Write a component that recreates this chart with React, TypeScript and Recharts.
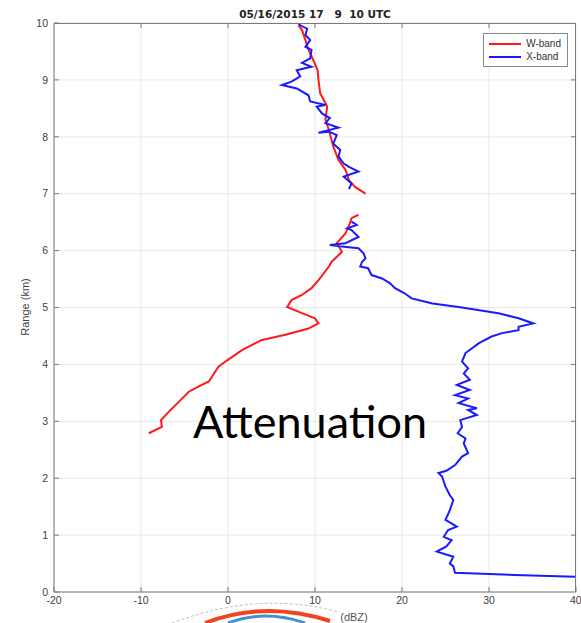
import {
  CartesianGrid,
  Scatter,
  ScatterChart,
  XAxis,
  YAxis,
} from "recharts";

// W-band (red), split where the profile has no data between ~6.6 and 7 km
const wLowRange = [2.79, 2.9, 3.02, 3.2, 3.35, 3.52, 3.62, 3.7, 3.96, 4.05, 4.25, 4.43, 4.52, 4.63, 4.72, 4.81, 4.9, 5.01, 5.13, 5.22, 5.34, 5.5, 5.72, 5.8, 5.98, 6.13, 6.3, 6.48, 6.57, 6.63];
const wLowDbz = [-9.1, -7.6, -7.7, -6.6, -5.6, -4.5, -3.3, -2.2, -1.1, -0.3, 1.6, 3.9, 6.6, 9.25, 10.4, 10.0, 8.5, 6.8, 7.3, 8.5, 9.6, 10.5, 11.6, 11.9, 13.1, 12.5, 13.5, 14.0, 14.2, 15.0];
const wHighRange = [7.0, 7.12, 7.24, 7.42, 7.59, 7.83, 8.12, 8.3, 8.53, 8.65, 8.76, 9.0, 9.17, 9.35, 9.53, 9.7, 9.88, 9.96];
const wHighDbz = [15.8, 14.6, 13.9, 13.5, 12.7, 12.1, 11.6, 11.2, 11.4, 11.0, 10.6, 10.4, 10.3, 9.8, 9.25, 8.9, 8.5, 8.1];

// X-band (blue)
const xLowRange = [0.27, 0.3, 0.34, 0.45, 0.5, 0.62, 0.71, 0.8, 0.91, 0.97, 1.09, 1.15, 1.27, 1.44, 1.62, 1.7, 1.85, 2.03, 2.09, 2.13, 2.23, 2.38, 2.44, 2.61, 2.7, 2.79, 2.9, 3.02, 3.11, 3.2, 3.23, 3.32, 3.4, 3.46, 3.55, 3.64, 3.73, 3.84, 3.93, 4.05, 4.2, 4.37, 4.49, 4.55, 4.6, 4.66, 4.72, 4.81, 4.9, 5.01, 5.07, 5.1, 5.16, 5.25, 5.34, 5.43, 5.51, 5.57, 5.69, 5.72, 5.8, 5.86, 5.95, 6.04, 6.07, 6.1, 6.13, 6.24, 6.36, 6.39, 6.45, 6.51];
const xLowDbz = [39.9, 33.0, 26.1, 25.9, 25.5, 25.9, 24.0, 25.1, 25.7, 24.8, 25.3, 26.3, 25.0, 25.5, 25.9, 25.5, 25.0, 24.6, 24.2, 25.1, 26.1, 26.9, 27.6, 27.1, 27.3, 26.4, 26.9, 26.7, 28.6, 27.6, 28.6, 26.5, 27.6, 26.1, 27.8, 26.3, 27.8, 27.1, 27.6, 26.9, 27.3, 28.8, 30.3, 31.5, 33.4, 33.4, 35.1, 33.4, 31.1, 26.5, 23.5, 22.7, 21.1, 20.3, 19.2, 18.6, 17.7, 16.5, 16.1, 15.2, 15.4, 15.8, 15.6, 15.0, 13.1, 11.7, 13.5, 15.0, 14.2, 13.7, 14.8, 14.2];
const xHighRange = [7.08, 7.18, 7.3, 7.39, 7.47, 7.53, 7.65, 7.77, 7.88, 8.03, 8.09, 8.07, 8.16, 8.24, 8.33, 8.41, 8.53, 8.56, 8.62, 8.73, 8.85, 8.91, 8.97, 9.06, 9.17, 9.23, 9.3, 9.38, 9.53, 9.58, 9.7, 9.79, 9.9, 9.96, 9.99];
const xHighDbz = [13.9, 14.2, 13.3, 15.0, 13.9, 13.3, 12.7, 12.9, 12.1, 12.5, 11.6, 10.4, 12.7, 11.2, 11.7, 10.8, 10.2, 11.2, 9.45, 9.25, 7.9, 6.2, 7.3, 8.3, 7.9, 9.6, 8.5, 9.45, 9.6, 8.9, 9.45, 8.9, 9.1, 8.3, 8.1];

const xTicks = [-20, -10, 0, 10, 20, 30, 40];
const yTicks = [0, 1, 2, 3, 4, 5, 6, 7, 8, 9, 10];

const toPoints = (range: number[], dbz: number[]) =>
  range.map((r, i) => ({ dbz: dbz[i], range: r }));

const series = [
  { key: "w-low", color: "#ff1a1a", data: toPoints(wLowRange, wLowDbz) },
  { key: "w-high", color: "#ff1a1a", data: toPoints(wHighRange, wHighDbz) },
  { key: "x-low", color: "#1a1aff", data: toPoints(xLowRange, xLowDbz) },
  { key: "x-high", color: "#1a1aff", data: toPoints(xHighRange, xHighDbz) },
];

const legendItems = [
  { label: "W-band", color: "#ff1a1a" },
  { label: "X-band", color: "#1a1aff" },
];

const W = 581;
const H = 623;
const margin = { top: 23, right: 5, bottom: 11, left: 0 };
const yAxisWidth = 54;
const xAxisHeight = 20;
const plot = {
  x: margin.left + yAxisWidth,
  y: margin.top,
  w: W - margin.left - margin.right - yAxisWidth,
  h: H - margin.top - margin.bottom - xAxisHeight,
};

const axisColor = "#7a7a7a";
const tickStyle = { fill: "#404040", fontSize: 10.5, fontFamily: "Liberation Sans, Arial, sans-serif" };

export default function App() {
  return (
    <div style={{ position: "absolute", left: 0, top: 0, width: W, height: H, background: "#fff" }}>
      <ScatterChart width={W} height={H} margin={margin}>
        <CartesianGrid stroke="#e8e8e8" strokeWidth={1} />
        <XAxis
          type="number"
          dataKey="dbz"
          domain={[-20, 40]}
          ticks={xTicks}
          height={xAxisHeight}
          stroke={axisColor}
          tickSize={-5}
          tickMargin={10}
          tick={tickStyle}
          allowDataOverflow
        />
        <YAxis
          type="number"
          dataKey="range"
          domain={[0, 10]}
          ticks={yTicks}
          width={yAxisWidth}
          stroke={axisColor}
          tickSize={-5}
          tickMargin={11}
          tick={tickStyle}
        />
        {series.map((s) => (
          <Scatter
            key={s.key}
            data={s.data}
            line={{ stroke: s.color, strokeWidth: 2 }}
            lineType="joint"
            shape={() => <g />}
            legendType="none"
            isAnimationActive={false}
          />
        ))}
        <text
          x={plot.x + plot.w / 2}
          y={18}
          textAnchor="middle"
          style={{ whiteSpace: "pre" }}
          fontFamily="DejaVu Sans, sans-serif"
          fontWeight="bold"
          fontSize={10.5}
          fill="#222"
        >
          {"05/16/2015 17   9  10 UTC"}
        </text>
        <text
          x={29}
          y={307}
          transform="rotate(-90 29 307)"
          textAnchor="middle"
          fontFamily="Liberation Sans, Arial, sans-serif"
          fontSize={11}
          fill="#444"
        >
          Range (km)
        </text>
        <text x={193} y={438} fontFamily="Lato, 'Open Sans', sans-serif" fontSize={45} fill="#000">
          Attenuation
        </text>
        <text
          x={354}
          y={621}
          textAnchor="middle"
          fontFamily="Liberation Sans, Arial, sans-serif"
          fontSize={11}
          fill="#555"
        >
          (dBZ)
        </text>
        {/* partly visible logo under the x label */}
        <path d="M 172 623 Q 260 590 338 612" fill="none" stroke="#bbb" strokeWidth={1} strokeDasharray="3 2" />
        <path d="M 205 623 Q 265 600 330 621" fill="none" stroke="#f0441e" strokeWidth={4} />
        <path d="M 228 623 Q 265 609 305 623" fill="none" stroke="#4a90c8" strokeWidth={3} />
      </ScatterChart>
      {/* top and right sides of the axes box, with inward ticks */}
      <svg
        width={W}
        height={H}
        style={{ position: "absolute", left: 0, top: 0, pointerEvents: "none" }}
      >
        <line x1={plot.x} y1={plot.y + 0.5} x2={plot.x + plot.w} y2={plot.y + 0.5} stroke={axisColor} />
        <line
          x1={plot.x + plot.w - 0.5}
          y1={plot.y}
          x2={plot.x + plot.w - 0.5}
          y2={plot.y + plot.h}
          stroke={axisColor}
        />
        {xTicks.slice(1, -1).map((t) => {
          const px = plot.x + ((t + 20) / 60) * plot.w;
          return <line key={`tx${t}`} x1={px} y1={plot.y} x2={px} y2={plot.y + 5} stroke={axisColor} />;
        })}
        {yTicks.slice(1, -1).map((t) => {
          const py = plot.y + ((10 - t) / 10) * plot.h;
          return (
            <line key={`ty${t}`} x1={plot.x + plot.w} y1={py} x2={plot.x + plot.w - 5} y2={py} stroke={axisColor} />
          );
        })}
      </svg>
      <div
        style={{
          position: "absolute",
          top: 33,
          right: 13,
          border: "1px solid #888",
          background: "#fff",
          padding: "3px 6px 3px 5px",
          fontFamily: "Liberation Sans, Arial, sans-serif",
          fontSize: 10,
          color: "#333",
          lineHeight: "13px",
        }}
      >
        {legendItems.map((item) => (
          <div key={item.label} style={{ display: "flex", alignItems: "center", gap: 5 }}>
            <span style={{ width: 32, height: 2, background: item.color, display: "inline-block" }} />
            <span>{item.label}</span>
          </div>
        ))}
      </div>
    </div>
  );
}
